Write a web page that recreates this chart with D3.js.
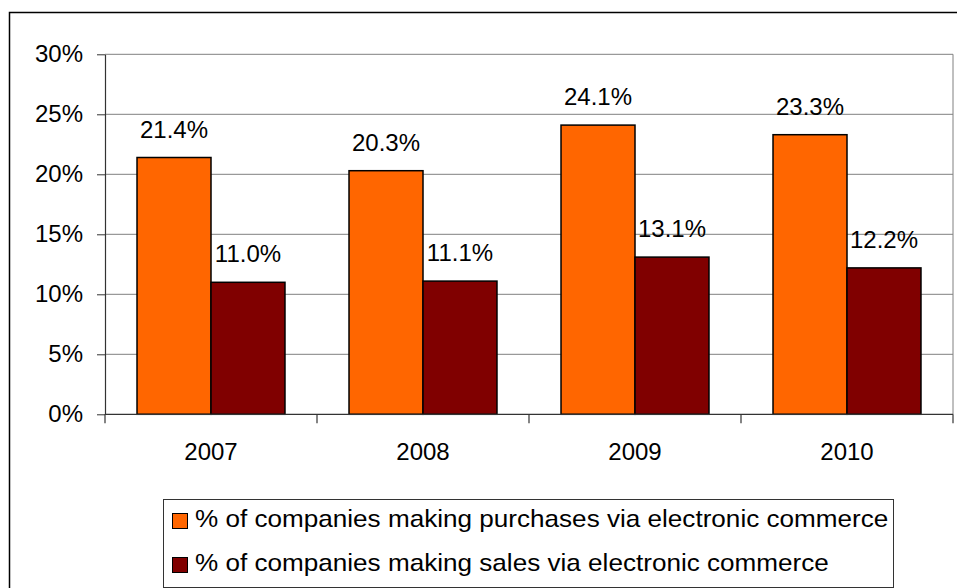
<!DOCTYPE html>
<html>
<head>
<meta charset="utf-8">
<script src="https://cdn.jsdelivr.net/npm/d3@7"></script>
<style>
  body { margin: 0; background: #fff; }
  text { font-family: "Liberation Sans", Arial, sans-serif; fill: #000; }
</style>
</head>
<body>
<svg id="chart" width="957" height="588"></svg>
<script>
const years = ["2007", "2008", "2009", "2010"];
const purchases = [21.4, 20.3, 24.1, 23.3];
const sales = [11.0, 11.1, 13.1, 12.2];
const yTicks = [0, 5, 10, 15, 20, 25, 30];
const seriesNames = [
  "% of companies making purchases via electronic commerce",
  "% of companies making sales via electronic commerce"
];
const seriesColors = ["#FF6600", "#800000"];

const svg = d3.select("#chart");
const plotLeft = 105, plotRight = 953, plotTop = 54.3, plotBottom = 414.3;

// outer chart border runs off the right and bottom edges
svg.append("rect")
  .attr("x", 9.5).attr("y", 12.5)
  .attr("width", 1000).attr("height", 700)
  .attr("fill", "none").attr("stroke", "#000").attr("stroke-width", 1.5);

const x0 = d3.scaleBand()
  .domain(years)
  .range([plotLeft, plotRight])
  .paddingInner(0.302)
  .paddingOuter(0.151);

const x1 = d3.scaleBand()
  .domain([0, 1])
  .range([0, x0.bandwidth()]);

const y = d3.scaleLinear()
  .domain([0, 30])
  .range([plotBottom, plotTop]);

// gridlines
svg.append("g")
  .selectAll("line")
  .data(yTicks.filter(d => d > 0))
  .join("line")
  .attr("x1", plotLeft).attr("x2", plotRight)
  .attr("y1", d => y(d)).attr("y2", d => y(d))
  .attr("stroke", "#808080").attr("stroke-width", 1);

// right border of plot area
svg.append("line")
  .attr("x1", plotRight).attr("x2", plotRight)
  .attr("y1", plotTop).attr("y2", plotBottom)
  .attr("stroke", "#808080").attr("stroke-width", 1);

// bars
const groups = svg.append("g")
  .selectAll("g")
  .data(years)
  .join("g")
  .attr("transform", d => `translate(${x0(d)},0)`);

const barData = (d, i) => [purchases[i], sales[i]].map((v, k) => ({ k, v }));

groups.selectAll("rect")
  .data(barData)
  .join("rect")
  .attr("x", d => x1(d.k))
  .attr("width", x1.bandwidth())
  .attr("y", d => y(d.v))
  .attr("height", d => plotBottom - y(d.v))
  .attr("fill", d => seriesColors[d.k])
  .attr("stroke", "#000")
  .attr("stroke-width", 1.5);

groups.selectAll("text")
  .data(barData)
  .join("text")
  .attr("x", d => x1(d.k) + x1.bandwidth() / 2)
  .attr("y", d => y(d.v) - 20)
  .attr("text-anchor", "middle")
  .attr("font-size", 24)
  .text(d => d.v.toFixed(1) + "%");

// y axis
const yAxis = svg.append("g")
  .attr("transform", `translate(${plotLeft},0)`)
  .call(d3.axisLeft(y).tickValues(yTicks).tickFormat(d => d + "%").tickSize(8).tickSizeOuter(0).tickPadding(14));
yAxis.select(".domain").attr("stroke", "#333").attr("stroke-width", 1.2);
yAxis.selectAll(".tick line").attr("stroke", "#333");
yAxis.selectAll(".tick text")
  .attr("font-size", 24)
  .attr("font-family", "Liberation Sans, Arial, sans-serif")
  .attr("fill", "#000");
yAxis.append("line")
  .attr("x1", 0).attr("x2", 0)
  .attr("y1", plotBottom).attr("y2", plotBottom + 9)
  .attr("stroke", "#333").attr("stroke-width", 1.2);

// x axis
svg.append("line")
  .attr("x1", plotLeft).attr("x2", plotRight)
  .attr("y1", plotBottom).attr("y2", plotBottom)
  .attr("stroke", "#333").attr("stroke-width", 1.2);

const boundaries = d3.range(years.length + 1).map(i => plotLeft + i * x0.step());
svg.append("g")
  .selectAll("line")
  .data(boundaries.slice(1))
  .join("line")
  .attr("x1", d => d).attr("x2", d => d)
  .attr("y1", plotBottom).attr("y2", plotBottom + 9)
  .attr("stroke", "#333").attr("stroke-width", 1.2);

svg.append("g")
  .selectAll("text")
  .data(years)
  .join("text")
  .attr("x", d => x0(d) + x0.bandwidth() / 2)
  .attr("y", 460)
  .attr("text-anchor", "middle")
  .attr("font-size", 24)
  .text(d => d);

// legend
const legend = svg.append("g");
legend.append("rect")
  .attr("x", 163.5).attr("y", 499.5)
  .attr("width", 730).attr("height", 88)
  .attr("fill", "#fff").attr("stroke", "#333").attr("stroke-width", 1);

const items = legend.selectAll("g")
  .data(seriesNames)
  .join("g")
  .attr("transform", (d, i) => `translate(172,${527 + i * 44})`);

items.append("rect")
  .attr("x", 0.5).attr("y", -13.5)
  .attr("width", 15).attr("height", 15)
  .attr("fill", (d, i) => seriesColors[i])
  .attr("stroke", "#000").attr("stroke-width", 1);

items.append("text")
  .attr("transform", "translate(23,0) scale(1.088,1)")
  .attr("font-size", 24)
  .text(d => d);
</script>
</body>
</html>
